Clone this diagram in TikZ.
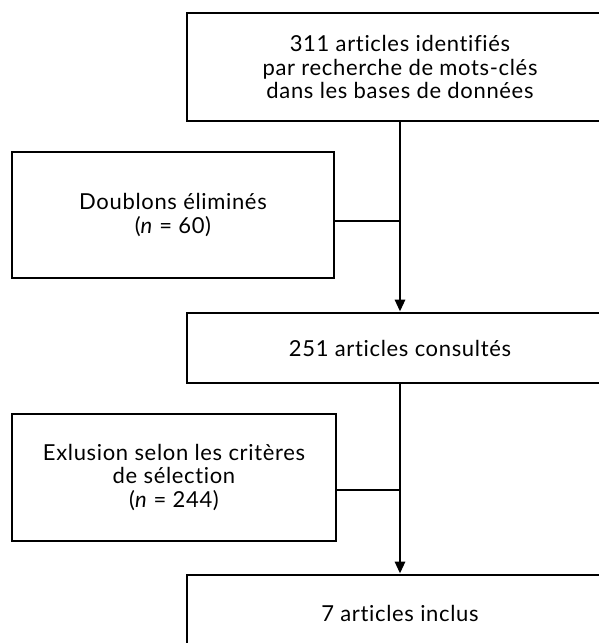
\documentclass[tikz,border=0pt]{standalone}
\usepackage{fontspec}
\setmainfont{Lato}[Ligatures=NoCommon,LetterSpace=3]
\usetikzlibrary{arrows.meta}
\tikzset{
  boite/.style={draw,rectangle,line width=1.4pt,align=center,inner sep=0pt,
    font=\fontsize{11}{11.6}\selectfont},
  fleche/.style={line width=1.4pt,-{Triangle[length=6pt,width=5pt]}},
  trait/.style={line width=1.4pt}
}
\begin{document}
\begin{tikzpicture}[x=0.5pt,y=-0.5pt]
\useasboundingbox (0,0) rectangle (599,643);
\clip (0,0) rectangle (599,643);

\node[boite,minimum width=213pt,minimum height=54pt] (ident) at (400,67) {311 articles identifiés\\par recherche de mots-clés\\dans les bases de données};
\node[boite,minimum width=161pt,minimum height=63pt] (doubl) at (173,215) {Doublons éliminés\\(\textit{n} = 60)};
\node[boite,minimum width=213pt,minimum height=35pt] (consu) at (400,348) {251 articles consultés};
\node[boite,minimum width=162pt,minimum height=63.5pt] (exclu) at (174,477.5) {Exlusion selon les critères\\de sélection\\(\textit{n} = 244)};
\node[boite,minimum width=213pt,minimum height=38pt] (inclu) at (400,613) {7 articles inclus};

% fleches principales
\draw[fleche] (ident) -- (consu);
\draw[fleche] (consu) -- (inclu);

% branchements lateraux
\coordinate (j1) at (400,221);
\coordinate (j2) at (400,490);
\draw[trait] (doubl.east |- j1) -- (j1);
\draw[trait] (exclu.east |- j2) -- (j2);

\end{tikzpicture}
\end{document}
